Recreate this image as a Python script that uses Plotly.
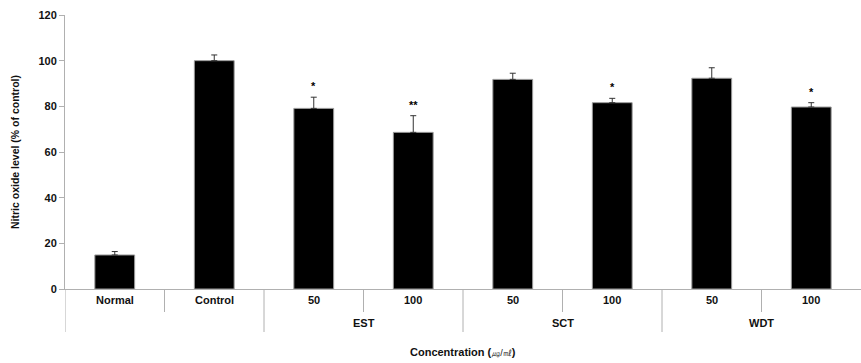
import plotly.graph_objects as go

categories = ["Normal", "Control", "50", "100", "50", "100", "50", "100"]
groups = ["EST", "SCT", "WDT"]
values = [14.9, 100.0, 79.1, 68.6, 91.8, 81.6, 92.3, 79.7]
errors = [1.5, 2.5, 4.9, 7.3, 2.7, 1.9, 4.6, 1.9]
stars = ["", "", "*", "**", "", "*", "", "*"]
y_ticks = [0, 20, 40, 60, 80, 100, 120]

FONT = "Liberation Sans, Arial, sans-serif"
W, H = 861, 363
ML, MR, MT, MB = 65, 0, 15, 74
plot_h = H - MT - MB

def py(px_below):
    # paper y for a pixel offset below the x axis
    return -px_below / plot_h

xs = list(range(len(categories)))

fig = go.Figure()
fig.add_trace(go.Bar(
    x=xs, y=values, width=0.4,
    marker=dict(color="black", line=dict(color="#9a9a9a", width=1)),
    error_y=dict(type="data", array=errors, arrayminus=[0]*len(errors), symmetric=False,
                 color="#333333", thickness=1, width=3),
))

annotations = []
# stars
for i, (v, e, s) in enumerate(zip(values, errors, stars)):
    if s:
        annotations.append(dict(x=i, y=v + e, xref="x", yref="y", text="<b>" + s + "</b>",
                                showarrow=False, yshift=11,
                                font=dict(family=FONT, size=11, color="black")))
# category labels
for i, c in enumerate(categories):
    annotations.append(dict(x=i, y=py(11), xref="x", yref="paper", text="<b>" + c + "</b>",
                            showarrow=False, font=dict(family=FONT, size=11, color="#111"),
                            yanchor="middle"))
# group labels
for g, name in enumerate(groups):
    annotations.append(dict(x=2 + 2 * g + 0.5, y=py(34), xref="x", yref="paper",
                            text="<b>" + name + "</b>", showarrow=False,
                            font=dict(family=FONT, size=11, color="#111"), yanchor="middle"))
# x title
annotations.append(dict(x=0.5, y=py(63), xref="paper", yref="paper",
                        text="<b>Concentration (</b><span style='font-size:9px'>㎍/㎖</span><b>)</b>",
                        showarrow=False, font=dict(family=FONT, size=11, color="#111"),
                        yanchor="middle"))
# y title
annotations.append(dict(x=-50 / (W - ML - MR), y=0.5, xref="paper", yref="paper",
                        text="<b>Nitric oxide level (% of control)</b>", textangle=-90,
                        showarrow=False, font=dict(family=FONT, size=10.5, color="#111"),
                        xanchor="center", yanchor="middle"))

shapes = []
# dividers below axis
boundaries = [-0.5 + k for k in range(1, len(categories))]
long_idx = {1.5, 3.5, 5.5}
for b in boundaries:
    depth = 43 if b in long_idx else 23
    if b == 0.5:
        depth = 23
    shapes.append(dict(type="line", xref="x", yref="paper", x0=b, x1=b, y0=0, y1=py(depth),
                       line=dict(color="#b0b0b0", width=1)))
# left axis extension
shapes.append(dict(type="line", xref="x", yref="paper", x0=-0.5, x1=-0.5, y0=0, y1=py(43),
                   line=dict(color="#b0b0b0", width=1)))

fig.update_layout(
    width=W, height=H, margin=dict(l=ML, r=MR, t=MT, b=MB),
    plot_bgcolor="white", paper_bgcolor="white", showlegend=False,
    xaxis=dict(range=[-0.5, len(categories) - 0.5], showticklabels=False, ticks="",
               showgrid=False, zeroline=False, showline=True, linecolor="#b0b0b0", linewidth=1),
    yaxis=dict(range=[0, 120], tickvals=y_ticks, ticktext=["<b>%d</b>" % t for t in y_ticks],
               showgrid=False, zeroline=False, showline=True, linecolor="#b0b0b0", linewidth=1,
               ticks="outside", ticklen=5, tickcolor="#b0b0b0",
               tickfont=dict(family=FONT, size=11, color="#111")),
    annotations=annotations, shapes=shapes, bargap=0.6,
)

fig.write_html("out.html")
